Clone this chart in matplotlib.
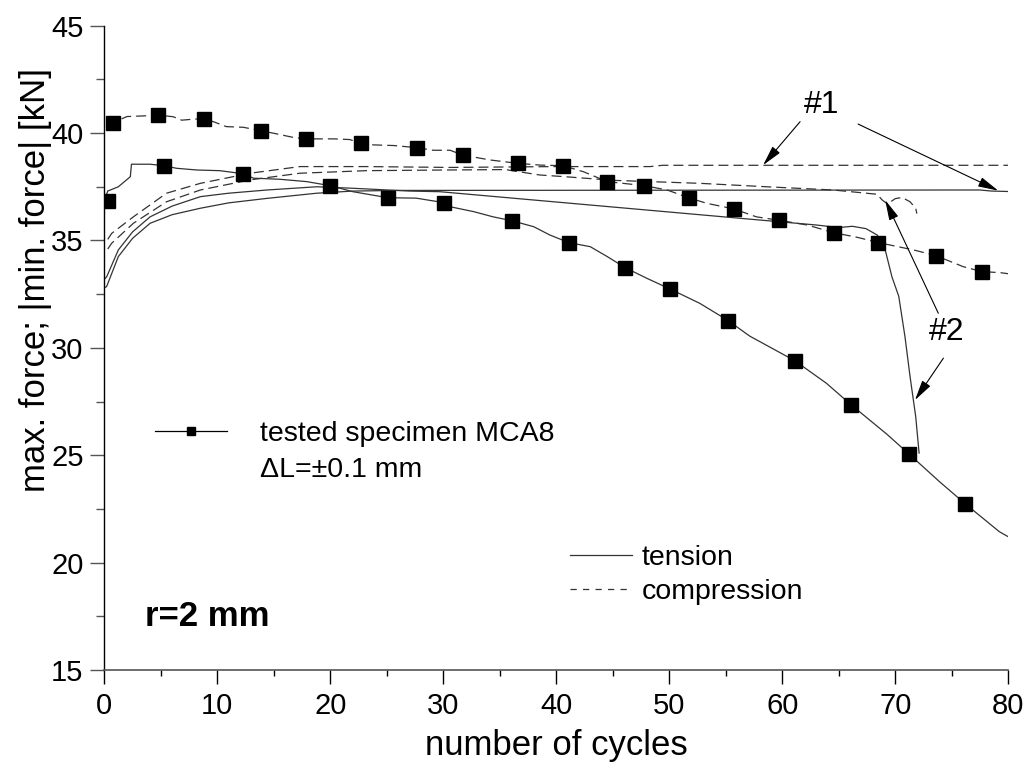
import matplotlib
matplotlib.use('Agg')
import matplotlib.pyplot as plt
from matplotlib.lines import Line2D
from matplotlib.ticker import MultipleLocator

plt.rcParams['font.family'] = ['Liberation Sans', 'DejaVu Sans']

# specimen MCA8, compression branch (|min. force|)
mca8_comp_x = [0.3, 0.74, 2.0, 3.5, 4.73, 6.1, 6.85, 7.9, 8.8, 9.65, 10.8, 12.3, 13.84, 15.0,
               16.7, 17.82, 20.3, 21.7, 22.7, 23.8, 25.6, 27.7, 29.1, 30.6, 31.7, 34.1, 36.6,
               38.55, 40.6, 42.4, 44.5, 47.8, 49.8, 51.7, 53.3, 55.7, 57.7, 59.7, 62.2, 64.55,
               66.6, 68.5, 71.6, 73.6, 76.0, 77.65, 79.3, 80.0]
mca8_comp_y = [40.4, 40.48, 40.77, 40.8, 40.84, 40.76, 40.6, 40.65, 40.66, 40.53, 40.3, 40.27,
               40.11, 39.99, 39.8, 39.73, 39.73, 39.7, 39.54, 39.45, 39.42, 39.32, 39.2, 39.2,
               38.98, 38.75, 38.59, 38.51, 38.48, 38.2, 37.74, 37.55, 37.35, 36.99, 36.73, 36.47,
               36.1, 35.94, 35.72, 35.36, 35.15, 34.9, 34.56, 34.29, 33.78, 33.55, 33.5, 33.45]
mca8_comp_mx = [0.74, 4.73, 8.8, 13.84, 17.82, 22.7, 27.7, 31.7, 36.6, 40.6, 44.5, 47.8, 51.7,
                55.7, 59.7, 64.55, 68.5, 73.6, 77.65]
mca8_comp_my = [40.48, 40.84, 40.66, 40.11, 39.73, 39.54, 39.32, 38.98, 38.59, 38.48, 37.74,
                37.55, 36.99, 36.47, 35.94, 35.36, 34.9, 34.29, 33.55]

# specimen MCA8, tension branch (max. force)
mca8_tens_x = [0.0, 0.3, 1.24, 2.3, 2.4, 4.05, 5.26, 6.4, 8.2, 10.2, 12.25, 13.2, 15.5, 17.9,
               20.0, 22.0, 25.1, 27.6, 30.06, 30.6, 32.7, 34.4, 36.05, 38.0, 39.4, 41.1, 43.0,
               44.5, 46.1, 48.0, 50.1, 52.7, 55.2, 57.1, 61.1, 63.9, 66.1, 69.2, 71.2, 73.9,
               76.2, 79.2, 80.0]
mca8_tens_y = [36.85, 37.3, 37.5, 37.97, 38.55, 38.55, 38.48, 38.36, 38.28, 38.25, 38.11, 37.9,
               37.85, 37.74, 37.55, 37.27, 36.99, 36.97, 36.76, 36.57, 36.34, 36.1, 35.92, 35.64,
               35.26, 34.9, 34.71, 34.25, 33.73, 33.24, 32.73, 32.07, 31.27, 30.55, 29.4, 28.35,
               27.34, 26.0, 25.06, 23.77, 22.73, 21.44, 21.2]
mca8_tens_mx = [0.35, 5.26, 12.25, 20.0, 25.1, 30.06, 36.05, 41.1, 46.1, 50.1, 55.2, 61.1, 66.1,
                71.2, 76.2]
mca8_tens_my = [36.84, 38.48, 38.11, 37.55, 36.99, 36.76, 35.92, 34.9, 33.73, 32.73, 31.27,
                29.4, 27.34, 25.06, 22.73]

# specimen #1
s1_tens_x = [0.0, 0.2, 1.24, 2.5, 4.05, 6.0, 8.5, 11.0, 14.4, 18.8, 22.0, 26.0, 77.5, 78.5, 80.0]
s1_tens_y = [32.8, 32.85, 34.25, 35.1, 35.8, 36.2, 36.5, 36.75, 36.96, 37.2, 37.3, 37.33, 37.35,
             37.3, 37.28]
s1_comp_x = [0.3, 0.65, 2.57, 5.5, 8.5, 12.9, 17.3, 23.2, 30.6, 40.0, 48.3, 49.4, 80.0]
s1_comp_y = [35.05, 35.33, 36.1, 37.2, 37.66, 38.13, 38.44, 38.44, 38.4, 38.44, 38.44, 38.5, 38.5]

# specimen #2
s2_tens_x = [0.0, 0.2, 1.24, 2.5, 4.05, 6.0, 8.5, 11.0, 14.4, 18.8, 22.0, 27.0, 29.7, 56.3,
             63.0, 65.0, 66.2, 67.4, 68.4, 69.1, 69.7, 70.3, 70.85, 71.3, 71.8, 72.1]
s2_tens_y = [33.2, 33.3, 34.56, 35.4, 36.1, 36.6, 37.04, 37.2, 37.35, 37.5, 37.43, 37.3, 37.27,
             36.03, 35.72, 35.6, 35.66, 35.55, 35.25, 34.56, 33.3, 32.4, 30.52, 28.66, 26.8, 25.1]
s2_comp_x = [0.3, 0.65, 2.57, 5.5, 8.5, 12.9, 17.3, 23.2, 30.0, 35.5, 38.5, 41.0, 45.0, 48.3,
             52.7, 58.6, 64.5, 68.4, 68.8, 69.3, 70.0, 70.6, 71.3, 71.8, 71.9]
s2_comp_y = [34.6, 34.87, 35.8, 36.8, 37.35, 37.82, 38.13, 38.25, 38.28, 38.3, 38.05, 37.96,
             37.8, 37.74, 37.66, 37.5, 37.35, 37.15, 36.9, 36.7, 36.95, 37.0, 36.8, 36.5, 36.25]

line_col = '#333333'
dash = (8, 4)

fig = plt.figure(figsize=(10.3, 7.74), dpi=100)
ax = fig.add_axes([0.1013, 0.1344, 0.8777, 0.8324])

ax.plot(s1_tens_x, s1_tens_y, color=line_col, lw=0.9)
ax.plot(s2_tens_x, s2_tens_y, color=line_col, lw=0.9)
ax.plot(s1_comp_x, s1_comp_y, color=line_col, lw=0.9, dashes=dash)
ax.plot(s2_comp_x, s2_comp_y, color=line_col, lw=0.9, dashes=dash)

ax.plot(mca8_tens_x, mca8_tens_y, color=line_col, lw=0.9)
ax.plot(mca8_comp_x, mca8_comp_y, color=line_col, lw=0.9, dashes=dash)
ax.plot(mca8_tens_mx, mca8_tens_my, ls='none', marker='s', ms=9.5, color='black')
ax.plot(mca8_comp_mx, mca8_comp_my, ls='none', marker='s', ms=9.5, color='black')

ax.set_xlim(0, 80)
ax.set_ylim(15, 45)
ax.xaxis.set_major_locator(MultipleLocator(10))
ax.xaxis.set_minor_locator(MultipleLocator(5))
ax.yaxis.set_major_locator(MultipleLocator(5))
ax.yaxis.set_minor_locator(MultipleLocator(2.5))
ax.tick_params(axis='x', which='major', direction='out', length=10, width=1, labelsize=21, pad=6)
ax.tick_params(axis='x', which='minor', direction='out', length=4, width=1)
ax.tick_params(axis='y', which='major', direction='out', length=10, width=1, labelsize=21, pad=5,
               color='#555555')
ax.tick_params(axis='y', which='minor', direction='out', length=6, width=1, color='#555555')
for side in ['top', 'right']:
    ax.spines[side].set_visible(False)
ax.spines['left'].set_linewidth(1)
ax.spines['bottom'].set_linewidth(1.2)
ax.spines['bottom'].set_color('#555555')

ax.set_xlabel('number of cycles', fontsize=25, labelpad=6)
ax.set_ylabel('max. force; |min. force| [kN]', fontsize=25)
ax.yaxis.set_label_coords(-0.058, 0.605)

# specimen legend
h_mca8 = Line2D([], [], color='black', lw=0.9, marker='s', ms=6)
leg1 = ax.legend([h_mca8], ['tested specimen MCA8'], loc='center left',
                 bbox_to_anchor=(0.056, 0.366), frameon=False, fontsize=20.5,
                 handlelength=2.53, handletextpad=1.16, borderpad=0, borderaxespad=0)
ax.add_artist(leg1)
ax.text(13.78, 24.3, '\u0394L=\u00b10.1 mm', fontsize=20.5, va='center', ha='left')

# tension / compression legend
h_t = Line2D([], [], color=line_col, lw=0.9)
h_c = Line2D([], [], color=line_col, lw=0.9, dashes=(5, 5))
ax.legend([h_t, h_c], ['tension', 'compression'], loc='center left',
          bbox_to_anchor=(0.515, 0.147), frameon=False, fontsize=20.5,
          handlelength=2.17, handletextpad=0.35, labelspacing=0.28,
          borderpad=0, borderaxespad=0)

ax.text(3.6, 17.5, 'r=2 mm', fontsize=25, fontweight='bold', va='center', ha='left')

# specimen labels with arrows
arrow = dict(arrowstyle='-|>,head_length=0.62,head_width=0.15', lw=0.8, color='black',
             mutation_scale=20, shrinkA=0, shrinkB=0)
ax.text(63.5, 41.3, '#1', fontsize=23, ha='center', va='center')
ax.annotate('', xy=(58.3, 38.51), xytext=(61.57, 40.53), arrowprops=arrow)
ax.annotate('', xy=(79.1, 37.32), xytext=(66.7, 40.42), arrowprops=arrow)
ax.text(74.55, 30.75, '#2', fontsize=23, ha='center', va='center')
ax.annotate('', xy=(69.1, 36.88), xytext=(73.8, 31.61), arrowprops=arrow)
ax.annotate('', xy=(71.74, 27.57), xytext=(74.25, 29.52), arrowprops=arrow)

fig.savefig('out.png', dpi=100)
